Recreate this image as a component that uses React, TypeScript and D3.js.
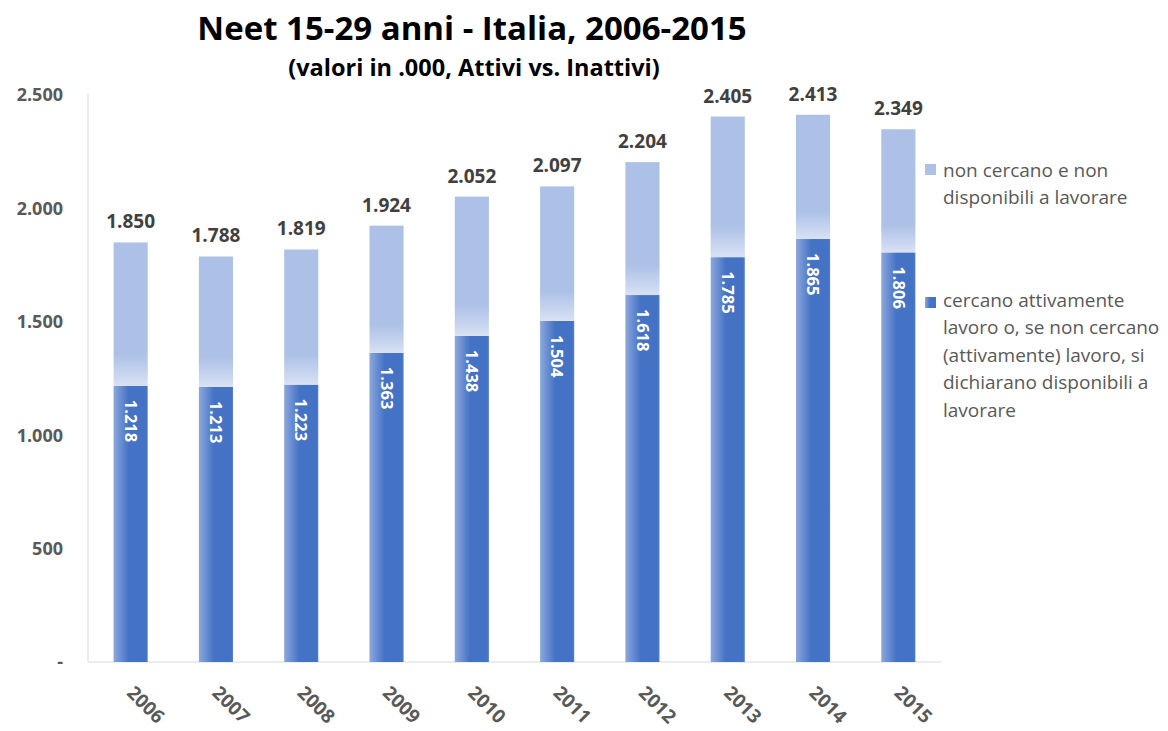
import React from "react";
import * as d3 from "d3";

const years = ["2006", "2007", "2008", "2009", "2010", "2011", "2012", "2013", "2014", "2015"];
const totals = [1850, 1788, 1819, 1924, 2052, 2097, 2204, 2405, 2413, 2349];
const attivi = [1218, 1213, 1223, 1363, 1438, 1504, 1618, 1785, 1865, 1806];
const yTicks = [0, 500, 1000, 1500, 2000, 2500];
const legendInattivi = ["non cercano e non", "disponibili a lavorare"];
const legendAttivi = [
  "cercano attivamente",
  "lavoro o, se non cercano",
  "(attivamente) lavoro, si",
  "dichiarano disponibili a",
  "lavorare",
];
const title = "Neet 15-29 anni - Italia, 2006-2015";
const subtitle = "(valori in .000, Attivi vs. Inattivi)";

const W = 1168;
const H = 731;
const plot = { left: 88, right: 941, top: 95, bottom: 662 };
const FONT = "'Open Sans', 'Noto Sans', sans-serif";
const fmt = (v: number) => (v === 0 ? "-" : d3.format(",")(v).replace(/,/g, "."));

export default function App() {
  const x = d3
    .scaleBand<string>()
    .domain(years)
    .range([plot.left, plot.right])
    .paddingInner(0.6)
    .paddingOuter(0.3);
  const y = d3.scaleLinear().domain([0, 2500]).range([plot.bottom, plot.top]);
  const bw = x.bandwidth();

  return (
    <svg
      width={W}
      height={H}
      style={{ position: "absolute", left: 0, top: 0, display: "block", background: "#fff" }}
    >
      <defs>
        <linearGradient id="gDark" x1="0" x2="1" y1="0" y2="0">
          <stop offset="0" stopColor="#8ca7dd" />
          <stop offset="0.45" stopColor="#4472c4" />
          <stop offset="0.95" stopColor="#4472c4" />
          <stop offset="1" stopColor="#5a82ca" />
        </linearGradient>
        <linearGradient id="gLight" x1="0" x2="0" y1="0" y2="1">
          <stop offset="0" stopColor="#adc1e7" />
          <stop offset="0.78" stopColor="#adc1e7" />
          <stop offset="0.92" stopColor="#c8d5ef" />
          <stop offset="1" stopColor="#d9e2f4" />
        </linearGradient>
      </defs>

      <text x={472} y={40} textAnchor="middle" fontFamily={FONT} fontWeight={700} fontSize={33} fill="#000">
        {title}
      </text>
      <text x={474} y={76} textAnchor="middle" fontFamily={FONT} fontWeight={700} fontSize={23.5} fill="#000">
        {subtitle}
      </text>

      {/* axes lines */}
      <line x1={plot.left} x2={plot.left} y1={plot.top - 2} y2={plot.bottom} stroke="#d9d9d9" strokeWidth={1} />
      <line x1={plot.left} x2={plot.right} y1={plot.bottom} y2={plot.bottom} stroke="#d9d9d9" strokeWidth={1} />

      {yTicks.map((t) => (
        <text
          key={t}
          x={63}
          y={y(t)}
          dy="0.35em"
          textAnchor="end"
          fontFamily={FONT}
          fontWeight={700}
          fontSize={18}
          fill="#595959"
        >
          {fmt(t)}
        </text>
      ))}

      {years.map((yr, i) => {
        const x0 = x(yr)!;
        const cx = x0 + bw / 2;
        const a = attivi[i];
        const tot = totals[i];
        return (
          <g key={yr}>
            <rect x={x0} y={y(a)} width={bw} height={y(0) - y(a)} fill="url(#gDark)" />
            <rect x={x0} y={y(tot)} width={bw} height={y(a) - y(tot)} fill="url(#gLight)" />
            <text
              x={cx}
              y={y(tot) - 14}
              textAnchor="middle"
              fontFamily={FONT}
              fontWeight={700}
              fontSize={19}
              fill="#404040"
            >
              {fmt(tot)}
            </text>
            <text
              transform={`translate(${cx},${y(a) + 14}) rotate(90)`}
              textAnchor="start"
              dy="0.35em"
              fontFamily={FONT}
              fontWeight={700}
              fontSize={16.5}
              fill="#ffffff"
            >
              {fmt(a)}
            </text>
            <text
              transform={`translate(${cx - 5},${plot.bottom + 32}) rotate(45)`}
              textAnchor="start"
              fontFamily={FONT}
              fontWeight={700}
              fontSize={19}
              fill="#595959"
            >
              {yr}
            </text>
          </g>
        );
      })}

      {/* legend */}
      <rect x={925} y={164} width={11} height={11} fill="#adc1e7" />
      {legendInattivi.map((l, i) => (
        <text key={l} x={943} y={177 + i * 27} fontFamily={FONT} fontSize={19} fill="#595959">
          {l}
        </text>
      ))}
      <rect x={925} y={297} width={11} height={11} fill="url(#gDark)" />
      {legendAttivi.map((l, i) => (
        <text key={l} x={943} y={307 + i * 27.4} fontFamily={FONT} fontSize={19} fill="#595959">
          {l}
        </text>
      ))}
    </svg>
  );
}
